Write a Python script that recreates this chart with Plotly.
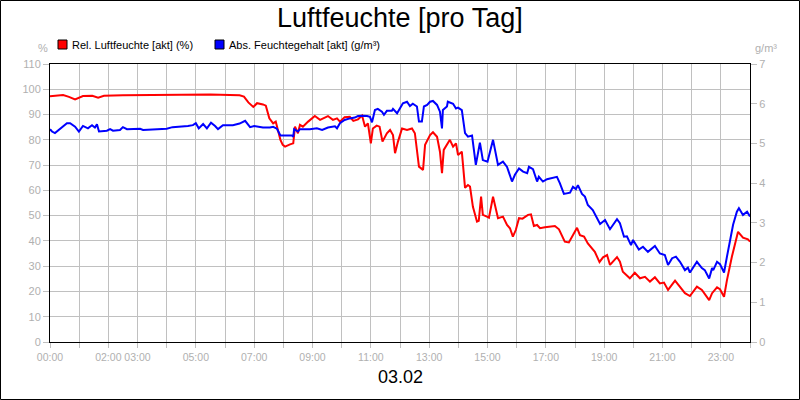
import plotly.graph_objects as go

# ---- data ----
rel_hours = [0.0, 0.2, 0.45, 0.65, 0.86, 1.13, 1.45, 1.65, 1.85, 2.5, 3.5, 4.5, 5.5, 6.0, 6.5, 6.65, 6.8, 6.97,
             7.1, 7.3, 7.4, 7.52, 7.65, 7.74, 7.9, 7.98, 8.06, 8.23, 8.34, 8.4, 8.5, 8.57, 8.67, 8.85, 9.08,
             9.26, 9.53, 9.7, 9.84, 9.94, 10.1, 10.28, 10.4, 10.56, 10.7, 10.8, 10.9, 11.0, 11.07, 11.2, 11.3,
             11.4, 11.55, 11.66, 11.76, 11.83, 11.93, 12.07, 12.24, 12.41, 12.51, 12.65, 12.79, 12.86, 13.03,
             13.13, 13.27, 13.37, 13.44, 13.5, 13.64, 13.71, 13.82, 13.92, 13.99, 14.12, 14.23, 14.33, 14.4,
             14.5, 14.64, 14.7, 14.78, 14.84, 14.98, 15.05, 15.19, 15.25, 15.36, 15.53, 15.67, 15.77, 15.87,
             15.97, 16.08, 16.2, 16.3, 16.39, 16.49, 16.59, 16.7, 16.8, 16.97, 17.31, 17.45, 17.65, 17.79,
             17.93, 18.07, 18.17, 18.31, 18.44, 18.6, 18.68, 18.84, 18.96, 19.1, 19.2, 19.44, 19.54, 19.64,
             19.88, 20.05, 20.23, 20.4, 20.57, 20.74, 20.91, 21.05, 21.19, 21.43, 21.6, 21.77, 21.94, 22.18,
             22.35, 22.45, 22.6, 22.7, 22.87, 22.97, 23.11, 23.21, 23.38, 23.59, 23.76, 23.93, 24.0]
rel_values = [97.2, 97.3, 97.7, 97.0, 96.0, 97.3, 97.4, 96.7, 97.4, 97.6, 97.8, 97.8, 97.9, 97.8, 97.6, 97.1, 94.8, 93.0,
              94.5, 94.0, 93.5, 88.5, 86.5, 87.2, 80.0, 78.0, 77.3, 78.2, 78.6, 85.2, 82.6, 85.9, 85.2, 87.2, 89.4,
              87.9, 89.4, 87.9, 88.5, 87.2, 88.9, 89.1, 87.5, 88.1, 89.6, 85.2, 86.5, 78.6, 84.5, 85.6, 85.2,
              79.3, 82.6, 83.9, 81.9, 74.7, 79.3, 84.5, 83.9, 84.5, 82.6, 69.4, 68.1, 78.0, 81.9,
              83.0, 81.2, 75.3, 66.8, 76.0, 78.6, 80.0, 77.3, 78.6, 74.0, 75.3, 61.0, 62.1, 61.5,
              53.5, 47.6, 47.9, 57.5, 50.3, 49.6, 49.2, 57.5, 54.9, 49.0, 49.6, 46.3, 45.0, 41.7,
              44.3, 49.0, 48.8, 49.6, 50.3, 50.5, 45.9, 46.3, 45.0, 45.4, 45.9, 44.6, 39.7, 39.4,
              42.3, 45.2, 42.3, 41.7, 39.0, 36.5, 35.7, 31.6, 33.5, 34.4, 30.5, 33.6, 31.8, 27.8,
              25.2, 27.4, 25.2, 25.8, 23.9, 25.6, 23.2, 23.5, 20.6, 24.3, 21.9, 19.3, 18.2, 21.9,
              20.6, 19.0, 16.6, 19.3, 21.6, 20.9, 17.9, 24.5, 33.8, 43.6, 41.3, 40.6, 39.7]

abs_hours = [0.0, 0.07, 0.17, 0.41, 0.58, 0.69, 0.86, 0.99, 1.13, 1.3, 1.44, 1.54, 1.61, 1.68, 1.95, 2.06, 2.16,
             2.4, 2.5, 2.64, 3.09, 3.19, 3.6, 4.0, 4.2, 4.56, 4.73, 4.9, 5.0, 5.1, 5.25, 5.38, 5.52, 5.66, 5.76,
             5.93, 6.27, 6.5, 6.69, 6.86, 7.0, 7.3, 7.54, 7.65, 7.78, 7.9, 8.3, 8.34, 8.37, 8.5, 8.57, 8.91,
             9.15, 9.33, 9.53, 9.77, 9.84, 9.94, 10.1, 10.28, 10.45, 10.56, 10.7, 10.87, 10.97, 11.04, 11.14,
             11.24, 11.38, 11.45, 11.55, 11.72, 11.76, 11.9, 12.0, 12.1, 12.24, 12.34, 12.44, 12.58, 12.65,
             12.75, 12.82, 12.93, 13.03, 13.13, 13.27, 13.37, 13.44, 13.47, 13.61, 13.64, 13.82, 13.92, 13.99,
             14.12, 14.23, 14.33, 14.47, 14.6, 14.74, 14.84, 15.0, 15.19, 15.36, 15.53, 15.67, 15.84, 15.94,
             16.08, 16.22, 16.36, 16.42, 16.56, 16.7, 16.76, 16.9, 17.04, 17.38, 17.48, 17.62, 17.83, 17.93,
             18.03, 18.1, 18.24, 18.34, 18.44, 18.61, 18.86, 19.03, 19.2, 19.44, 19.54, 19.68, 19.78, 19.92,
             19.99, 20.19, 20.33, 20.5, 20.74, 20.91, 21.08, 21.19, 21.33, 21.46, 21.6, 21.77, 21.87, 21.94,
             22.18, 22.35, 22.45, 22.6, 22.7, 22.74, 22.87, 22.97, 23.11, 23.21, 23.28, 23.42, 23.55, 23.62,
             23.76, 23.9, 24.0]
abs_values = [5.36, 5.30, 5.26, 5.42, 5.51, 5.51, 5.42, 5.30, 5.44, 5.38, 5.46, 5.40, 5.48, 5.30, 5.32, 5.36, 5.32,
              5.34, 5.41, 5.36, 5.37, 5.34, 5.35, 5.37, 5.41, 5.42, 5.44, 5.46, 5.51, 5.38, 5.49, 5.38, 5.52, 5.44, 5.36,
              5.46, 5.46, 5.50, 5.57, 5.41, 5.44, 5.40, 5.40, 5.42, 5.37, 5.20, 5.20, 5.17, 5.36, 5.30, 5.36, 5.36,
              5.38, 5.34, 5.40, 5.43, 5.38, 5.51, 5.59, 5.63, 5.65, 5.69, 5.70, 5.69, 5.67, 5.53, 5.84,
              5.87, 5.80, 5.72, 5.82, 5.82, 5.87, 5.76, 5.88, 6.01, 6.05, 5.94, 6.00, 5.93, 5.55,
              5.55, 5.93, 5.97, 6.05, 6.07, 5.97, 5.80, 5.38, 5.84, 5.93, 6.05, 6.00, 5.88, 5.90,
              5.84, 5.26, 5.17, 5.20, 4.46, 5.02, 4.58, 4.54, 5.09, 4.46, 4.54, 4.41, 4.04, 4.21,
              4.37, 4.29, 4.25, 4.41, 4.35, 4.04, 4.16, 4.04, 4.10, 4.16, 4.00, 3.73, 3.76, 3.91,
              3.85, 3.95, 3.73, 3.66, 3.45, 3.32, 2.97, 3.07, 2.84, 3.09, 2.99, 2.65, 2.66, 2.44,
              2.57, 2.33, 2.40, 2.27, 2.42, 2.23, 2.19, 1.94, 2.11, 2.15, 2.02, 1.81, 1.87, 1.75,
              2.02, 1.86, 1.81, 1.60, 1.86, 1.81, 2.02, 1.96, 1.75, 2.15, 2.40, 2.95, 3.28, 3.37,
              3.20, 3.28, 3.16]

x_tick_hours = list(range(0, 25))
x_tick_labels = ["00:00", "", "02:00", "03:00", "", "05:00", "", "07:00", "", "09:00", "", "11:00", "",
                 "13:00", "", "15:00", "", "17:00", "", "19:00", "", "21:00", "", "23:00", ""]

series_names = ["Rel. Luftfeuchte [akt] (%)", "Abs. Feuchtegehalt [akt] (g/m³)"]
series_colors = ["#ff0000", "#0000ff"]

FONT = "Liberation Sans, Arial, sans-serif"
GRID = "#c0c0c0"
LABEL = "#b0b0b0"

fig = go.Figure()
fig.add_trace(go.Scatter(x=rel_hours, y=rel_values, mode="lines", name=series_names[0],
                         line=dict(color=series_colors[0], width=2), yaxis="y", showlegend=False))
fig.add_trace(go.Scatter(x=abs_hours, y=abs_values, mode="lines", name=series_names[1],
                         line=dict(color=series_colors[1], width=2), yaxis="y2", showlegend=False))

W, H = 800, 400
L, R, T, B = 50, 50, 64, 58
pw, ph = W - L - R, H - T - B


def px(x):
    return (x - L) / pw


def py(y):
    return (H - B - y) / ph


fig.update_layout(
    width=W, height=H,
    margin=dict(l=L, r=R, t=T, b=B, pad=0, autoexpand=False),
    paper_bgcolor="white", plot_bgcolor="white",
    font=dict(family=FONT, size=11, color=LABEL),
    showlegend=False,
    xaxis=dict(range=[0, 24], tickvals=x_tick_hours, ticktext=x_tick_labels, tickangle=0,
               showgrid=True, gridcolor=GRID, gridwidth=1,
               showline=True, linecolor="black", linewidth=1, mirror=True,
               ticks="outside", ticklen=5, tickcolor=GRID, tickfont=dict(size=10.5, color=LABEL),
               zeroline=False, fixedrange=True, automargin=False),
    yaxis=dict(range=[0, 110], dtick=10, tick0=0,
               showgrid=True, gridcolor=GRID, gridwidth=1,
               showline=True, linecolor="black", linewidth=1, mirror=True,
               ticks="outside", ticklen=6, tickcolor=GRID, tickfont=dict(size=11, color=LABEL),
               zeroline=False, automargin=False),
    yaxis2=dict(range=[0, 7], dtick=1, tick0=0, overlaying="y", side="right",
                showgrid=False, showline=False,
                ticks="outside", ticklen=6, tickcolor=GRID, tickfont=dict(size=11, color=LABEL),
                zeroline=False, automargin=False),
)

annotations = [
    dict(text="Luftfeuchte [pro Tag]", x=0.5, y=py(18), xref="paper", yref="paper",
         showarrow=False, font=dict(size=27, color="black", family=FONT), xanchor="center", yanchor="middle"),
    dict(text="03.02", x=0.5, y=py(377), xref="paper", yref="paper",
         showarrow=False, font=dict(size=18, color="black", family=FONT), xanchor="center", yanchor="middle"),
    dict(text="%", x=px(43), y=py(48), xref="paper", yref="paper",
         showarrow=False, font=dict(size=11, color=LABEL, family=FONT), xanchor="center", yanchor="middle"),
    dict(text="g/m³", x=px(766), y=py(48), xref="paper", yref="paper",
         showarrow=False, font=dict(size=11, color=LABEL, family=FONT), xanchor="center", yanchor="middle"),
]
shapes = [
    dict(type="rect", xref="paper", yref="paper", x0=px(0.5), x1=px(799.5), y0=py(0.5), y1=py(399.5),
         line=dict(color="black", width=1), fillcolor="rgba(0,0,0,0)", layer="above"),
]
legend_x = [58, 215]
for name, color, lx in zip(series_names, series_colors, legend_x):
    shapes.append(dict(type="rect", xref="paper", yref="paper", x0=px(lx), x1=px(lx + 9),
                       y0=py(40), y1=py(49), fillcolor=color, line=dict(color="black", width=1)))
    annotations.append(dict(text=name, x=px(lx + 12), y=py(44.5), xref="paper", yref="paper",
                            showarrow=False, xanchor="left", yanchor="middle",
                            font=dict(size=11, color="black", family=FONT)))

fig.update_layout(annotations=annotations, shapes=shapes)
fig.write_html("out.html", config={"displayModeBar": False},
               post_script="document.body.style.margin='0';document.body.style.overflow='hidden';")
